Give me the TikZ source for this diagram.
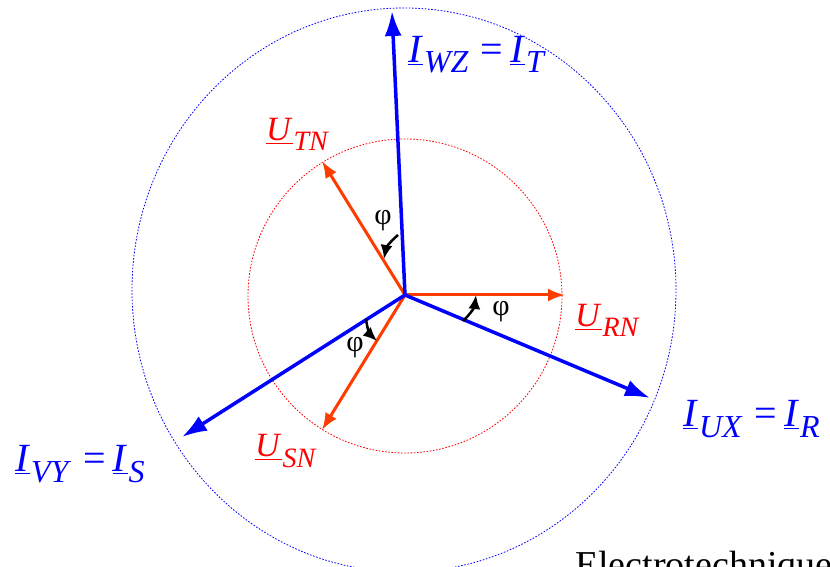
\documentclass[tikz,border=0pt]{standalone}
\usepackage{fontspec}
\setmainfont{Liberation Serif}
\usetikzlibrary{arrows.meta}
\definecolor{phblue}{HTML}{0000FF}
\definecolor{phred}{HTML}{FF3C00}
\definecolor{lblred}{HTML}{FF0000}
\newcommand{\vect}[3]{\underline{\textit{#1}}\kern1pt\raisebox{-10pt}{\fontsize{#3}{#3}\selectfont\textit{#2}}}

\begin{document}
\begin{tikzpicture}[x=1pt, y=1pt,
  cur/.style={-{Latex[length=25pt,width=17pt]}, line width=3.5pt, draw=phblue},
  vol/.style={-{Latex[length=17pt,width=13pt]}, line width=3pt, draw=phred},
  ang/.style={-{Latex[length=14pt,width=12pt]}, line width=2.5pt, draw=black},
  ring/.style={dash pattern=on 1.6pt off 1.6pt, line width=0.8pt},
  lblb/.style={text=phblue, anchor=base west, inner sep=0pt, font=\fontsize{40}{40}\selectfont},
  lblr/.style={text=lblred, anchor=base west, inner sep=0pt, font=\fontsize{34}{34}\selectfont},
  phi/.style={inner sep=0pt, font=\fontsize{30}{30}\selectfont}
]
\useasboundingbox (-405,295) rectangle (425,-272);
\clip (-405,295) rectangle (425,-272);

\draw[ring, phblue] (-1,5) ellipse [x radius=272, y radius=282];
\draw[ring, lblred] (0,-1) circle [radius=157];

\coordinate (N) at (0,0);
\coordinate (urn) at (160,0);
\coordinate (utn) at (-83,134);
\coordinate (usn) at (-83,-135);
\coordinate (iwz) at (-13,284);
\coordinate (iux) at (245,-103);
\coordinate (ivy) at (-223,-142);

\draw[vol] (N) -- (urn);
\draw[vol] (N) -- (utn);
\draw[vol] (N) -- (usn);
\draw[cur] (N) -- (iwz);
\draw[cur] (N) -- (iux);
\draw[cur] (N) -- (ivy);

\coordinate (a1s) at (-7,60);
\coordinate (a1e) at (-21,36);
\coordinate (a2s) at (58,-26);
\coordinate (a2e) at (71,0);
\coordinate (a3s) at (-39,-24);
\coordinate (a3e) at (-28,-46);
\draw[ang] (a1s) to[bend right=20] (a1e);
\draw[ang] (a2s) to[bend right=20] (a2e);
\draw[ang] (a3s) to[bend right=20] (a3e);

\node[phi] (phi1) at (-22,74) {φ};
\node[phi] (phi2) at (96,-17) {φ};
\node[phi] (phi3) at (-50,-53) {φ};

\node[lblb] (lwz) at (3,232) {\vect{I}{WZ}{32}\hspace{12pt}=\hspace{7pt}\vect{I}{T}{32}};
\node[lblb] (lux) at (278,-132) {\vect{I}{UX}{32}\hspace{12pt}=\hspace{7pt}\vect{I}{R}{32}};
\node[lblb] (lvy) at (-390,-177) {\vect{I}{VY}{32}\hspace{12pt}=\hspace{7pt}\vect{I}{S}{32}};
\node[lblr] (ltn) at (-139,154) {\vect{U}{TN}{28}};
\node[lblr] (lrn) at (170,-32) {\vect{U}{RN}{28}};
\node[lblr] (lsn) at (-150,-162) {\vect{U}{SN}{28}};

\node[anchor=base west, inner sep=0pt, font=\fontsize{38}{38}\selectfont] (foot) at (170,-282) {Electrotechnique};
\end{tikzpicture}
\end{document}
